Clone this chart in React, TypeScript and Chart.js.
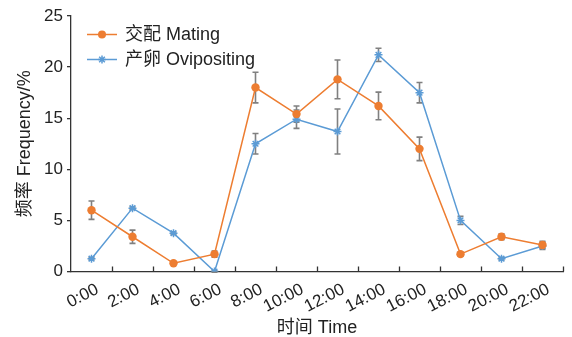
import React, { useEffect, useRef } from "react";
import { Chart, registerables } from "chart.js";

Chart.register(...registerables);

const timeLabels = ["0:00", "2:00", "4:00", "6:00", "8:00", "10:00", "12:00", "14:00", "16:00", "18:00", "20:00", "22:00"];
const matingValues = [6.0, 3.4, 0.8, 1.7, 18.0, 15.4, 18.8, 16.2, 12.0, 1.7, 3.4, 2.6];
const matingErrors = [0.9, 0.65, 0.12, 0.3, 1.5, 0.8, 1.9, 1.35, 1.15, 0.2, 0.3, 0.35];
const oviValues = [1.25, 6.2, 3.75, 0, 12.5, 14.9, 13.7, 21.2, 17.5, 5.0, 1.25, 2.5];
const oviErrors = [0.12, 0.12, 0.12, 0.08, 1.0, 0.9, 2.2, 0.65, 1.0, 0.4, 0.12, 0.35];
const yTicks = [0, 5, 10, 15, 20, 25];

const ORANGE = "#ED7D31";
const BLUE = "#5B9BD5";
const AXIS = "#333333";
const ERR = "#808080";
const FONT = "'Liberation Sans', 'Noto Sans CJK SC', Arial, sans-serif";

const errorsByDataset = [matingErrors, oviErrors];

const errorBarPlugin = {
  id: "errorBars",
  beforeDatasetsDraw(chart: any) {
    const ctx = chart.ctx;
    const y = chart.scales.y;
    ctx.save();
    ctx.strokeStyle = ERR;
    ctx.lineWidth = 1.6;
    chart.data.datasets.forEach((ds: any, di: number) => {
      const meta = chart.getDatasetMeta(di);
      const errs = errorsByDataset[di];
      meta.data.forEach((pt: any, i: number) => {
        const v = ds.data[i];
        const e = errs[i];
        const x = pt.x;
        const yt = y.getPixelForValue(v + e);
        const yb = y.getPixelForValue(v - e);
        ctx.beginPath();
        ctx.moveTo(x, yt);
        ctx.lineTo(x, yb);
        ctx.moveTo(x - 3, yt);
        ctx.lineTo(x + 3, yt);
        ctx.moveTo(x - 3, yb);
        ctx.lineTo(x + 3, yb);
        ctx.stroke();
      });
    });
    ctx.restore();
  },
};

const innerTicksPlugin = {
  id: "innerTicks",
  afterDraw(chart: any) {
    const ctx = chart.ctx;
    const xs = chart.scales.x;
    const n = timeLabels.length;
    const half = (xs.getPixelForValue(1) - xs.getPixelForValue(0)) / 2;
    const bottom = chart.chartArea.bottom;
    ctx.save();
    ctx.strokeStyle = AXIS;
    ctx.lineWidth = 1.3;
    ctx.beginPath();
    for (let i = 1; i <= n; i++) {
      const x = Math.round(xs.getPixelForValue(i - 1) + half) + 0.5;
      ctx.moveTo(x, bottom);
      ctx.lineTo(x, bottom - 5);
    }
    ctx.stroke();
    ctx.restore();
  },
};

function drawStar(ctx: CanvasRenderingContext2D, x: number, y: number, r: number) {
  ctx.beginPath();
  ctx.moveTo(x - r, y);
  ctx.lineTo(x + r, y);
  ctx.moveTo(x, y - r);
  ctx.lineTo(x, y + r);
  const d = r * Math.SQRT1_2;
  ctx.moveTo(x - d, y - d);
  ctx.lineTo(x + d, y + d);
  ctx.moveTo(x - d, y + d);
  ctx.lineTo(x + d, y - d);
  ctx.stroke();
}

const legendPlugin = {
  id: "customLegend",
  afterDraw(chart: any) {
    const ctx = chart.ctx;
    ctx.save();
    const rows = [34.5, 59.5];
    chart.data.datasets.forEach((ds: any, i: number) => {
      const yy = rows[i];
      ctx.strokeStyle = ds.borderColor;
      ctx.lineWidth = 1.5;
      ctx.beginPath();
      ctx.moveTo(87, yy);
      ctx.lineTo(117, yy);
      ctx.stroke();
      if (ds.pointStyle === "circle") {
        ctx.fillStyle = ds.borderColor;
        ctx.beginPath();
        ctx.arc(102, yy, 4, 0, Math.PI * 2);
        ctx.fill();
      } else {
        ctx.lineWidth = 1.5;
        drawStar(ctx, 102, yy, 4);
      }
      ctx.fillStyle = "#222";
      ctx.font = `18px ${FONT}`;
      ctx.textBaseline = "middle";
      ctx.textAlign = "left";
      ctx.fillText(ds.label, 125, yy + 1);
    });
    ctx.restore();
  },
};

export default function App() {
  const ref = useRef<HTMLCanvasElement | null>(null);
  useEffect(() => {
    if (!ref.current) return;
    const chart = new Chart(ref.current, {
      type: "line",
      data: {
        labels: timeLabels,
        datasets: [
          {
            label: "交配 Mating",
            data: matingValues,
            borderColor: ORANGE,
            backgroundColor: ORANGE,
            borderWidth: 1.5,
            pointStyle: "circle",
            pointRadius: 4.2,
            pointBorderWidth: 0,
            pointBackgroundColor: ORANGE,
            tension: 0,
          },
          {
            label: "产卵 Ovipositing",
            data: oviValues,
            borderColor: BLUE,
            backgroundColor: BLUE,
            borderWidth: 1.5,
            pointStyle: "star",
            pointRadius: 4,
            pointBorderWidth: 1.5,
            pointBorderColor: BLUE,
            tension: 0,
          },
        ],
      },
      options: {
        animation: false,
        responsive: true,
        maintainAspectRatio: false,
        layout: { padding: { top: 16, right: 9, left: 0, bottom: 0 } },
        plugins: {
          legend: { display: false },
          tooltip: { enabled: false },
        },
        scales: {
          x: {
            type: "category",
            offset: true,
            afterFit(scale: any) {
              scale.height = 65.5;
            },
            grid: { display: true, offset: true, drawOnChartArea: false, drawTicks: false },
            border: { display: true, color: AXIS, width: 1.3 },
            ticks: {
              color: "#222",
              font: { family: FONT, size: 17 },
              padding: 8,
              labelOffset: 6,
              minRotation: 27,
              maxRotation: 27,
              autoSkip: false,
            },
            title: {
              display: true,
              text: "时间 Time",
              color: "#222",
              font: { family: FONT, size: 18, lineHeight: 1 },
              padding: { top: 0, bottom: 0 },
            },
          },
          y: {
            min: 0,
            max: 25,
            afterFit(scale: any) {
              scale.width = 71;
            },
            afterBuildTicks(scale: any) {
              scale.ticks = yTicks.map((v) => ({ value: v }));
            },
            grid: { display: true, drawOnChartArea: false, drawTicks: true, tickLength: 4, color: AXIS, lineWidth: 1.3 },
            border: { display: true, color: AXIS, width: 1.3 },
            ticks: {
              color: "#222",
              font: { family: FONT, size: 17 },
              padding: 4,
            },
            title: {
              display: true,
              text: "频率 Frequency/%",
              color: "#222",
              font: { family: FONT, size: 18, lineHeight: 1 },
              padding: { top: 16, bottom: 0 },
            },
          },
        },
      },
      plugins: [errorBarPlugin, innerTicksPlugin, legendPlugin],
    } as any);
    return () => chart.destroy();
  }, []);
  return (
    <div style={{ position: "absolute", left: 0, top: 0, width: 572, height: 337 }}>
      <canvas ref={ref} />
    </div>
  );
}
